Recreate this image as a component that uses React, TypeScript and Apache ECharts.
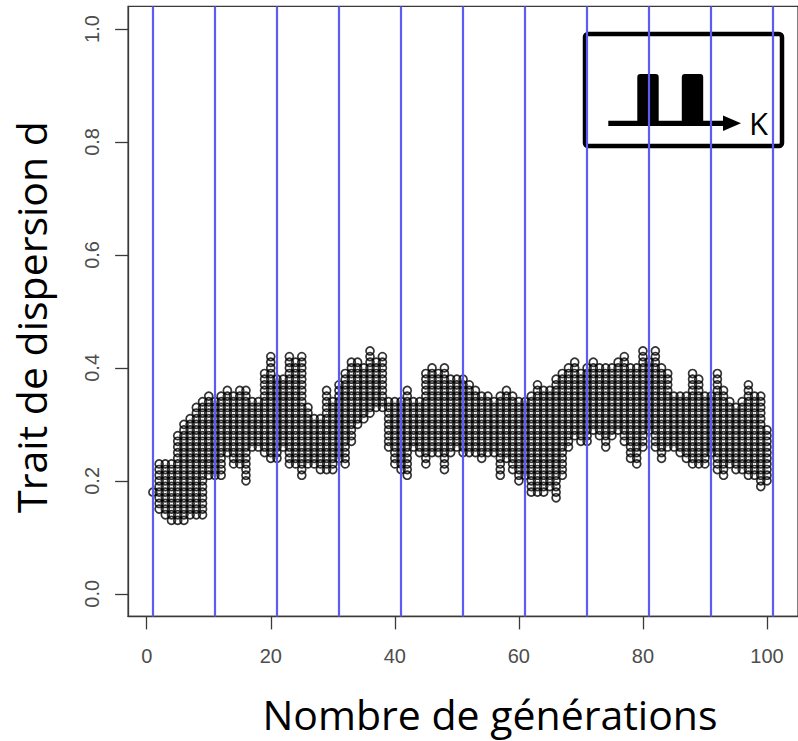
import React, { useEffect, useRef } from "react";
import * as echarts from "echarts";

// Generations (x) and the range of dispersion-trait levels present in each generation
const generations = [
  1, 2, 3, 4, 5, 6, 7, 8, 9, 10, 11, 12, 13, 14, 15, 16, 17, 18, 19, 20,
  21, 22, 23, 24, 25, 26, 27, 28, 29, 30, 31, 32, 33, 34, 35, 36, 37, 38, 39, 40,
  41, 42, 43, 44, 45, 46, 47, 48, 49, 50, 51, 52, 53, 54, 55, 56, 57, 58, 59, 60,
  61, 62, 63, 64, 65, 66, 67, 68, 69, 70, 71, 72, 73, 74, 75, 76, 77, 78, 79, 80,
  81, 82, 83, 84, 85, 86, 87, 88, 89, 90, 91, 92, 93, 94, 95, 96, 97, 98, 99, 100,
];
const traitMin = [
  0.18, 0.15, 0.14, 0.13, 0.13, 0.13, 0.14, 0.14, 0.14, 0.21,
  0.21, 0.21, 0.25, 0.23, 0.23, 0.2, 0.26, 0.26, 0.25, 0.24,
  0.24, 0.26, 0.23, 0.23, 0.21, 0.23, 0.23, 0.22, 0.22, 0.22,
  0.24, 0.23, 0.27, 0.3, 0.31, 0.32, 0.33, 0.33, 0.26, 0.23,
  0.22, 0.21, 0.26, 0.25, 0.23, 0.25, 0.25, 0.22, 0.25, 0.26,
  0.25, 0.25, 0.25, 0.24, 0.25, 0.25, 0.21, 0.24, 0.22, 0.2,
  0.21, 0.18, 0.18, 0.18, 0.19, 0.17, 0.21, 0.26, 0.28, 0.27,
  0.27, 0.29, 0.28, 0.26, 0.28, 0.29, 0.27, 0.24, 0.23, 0.26,
  0.29, 0.26, 0.24, 0.26, 0.26, 0.25, 0.24, 0.23, 0.23, 0.23,
  0.25, 0.22, 0.21, 0.23, 0.22, 0.22, 0.21, 0.21, 0.19, 0.2,
];
const traitMax = [
  0.18, 0.23, 0.23, 0.23, 0.28, 0.3, 0.31, 0.33, 0.34, 0.35,
  0.34, 0.35, 0.36, 0.35, 0.36, 0.36, 0.34, 0.34, 0.39, 0.42,
  0.38, 0.38, 0.42, 0.41, 0.42, 0.33, 0.31, 0.31, 0.36, 0.34,
  0.37, 0.39, 0.41, 0.41, 0.4, 0.43, 0.41, 0.42, 0.34, 0.34,
  0.34, 0.36, 0.34, 0.34, 0.39, 0.4, 0.39, 0.4, 0.38, 0.38,
  0.38, 0.37, 0.36, 0.35, 0.35, 0.34, 0.35, 0.36, 0.35, 0.34,
  0.34, 0.35, 0.37, 0.36, 0.36, 0.38, 0.39, 0.4, 0.41, 0.39,
  0.4, 0.41, 0.4, 0.4, 0.4, 0.41, 0.42, 0.4, 0.4, 0.43,
  0.41, 0.43, 0.4, 0.39, 0.35, 0.35, 0.35, 0.39, 0.38, 0.35,
  0.35, 0.39, 0.36, 0.34, 0.33, 0.34, 0.37, 0.35, 0.35, 0.29,
];
const traitStep = 0.01;
const blueLineGenerations = [1, 11, 21, 31, 41, 51, 61, 71, 81, 91, 101];
const xTicks = [0, 20, 40, 60, 80, 100];
const yTicks = [0, 0.2, 0.4, 0.6, 0.8, 1.0];
const xTitle = "Nombre de générations";
const yTitle = "Trait de dispersion d";
const insetLabel = "K";

export default function App() {
  const ref = useRef<HTMLDivElement>(null);

  useEffect(() => {
    if (!ref.current) return;
    const chart = echarts.init(ref.current, undefined, { renderer: "svg" });

    const points: number[][] = [];
    generations.forEach((g, i) => {
      const lo = Math.round(traitMin[i] / traitStep);
      const hi = Math.round(traitMax[i] / traitStep);
      for (let k = lo; k <= hi; k++) {
        points.push([g, +(k * traitStep).toFixed(2)]);
      }
    });

    const axisColor = "#3a3a3a";
    const labelColor = "#4d4d4d";

    chart.setOption({
      animation: false,
      backgroundColor: "#ffffff",
      grid: {
        left: 128.1,
        top: 6.4,
        width: 680.4,
        height: 610,
        show: true,
        borderColor: axisColor,
        borderWidth: 1.3,
        backgroundColor: "transparent",
      },
      xAxis: {
        type: "value",
        min: -3,
        max: 105,
        axisLine: { show: true, onZero: false, lineStyle: { color: axisColor, width: 1.3 } },
        splitLine: { show: false },
        axisTick: {
          show: true,
          length: 13,
          customValues: xTicks,
          lineStyle: { color: axisColor, width: 1.3 },
        },
        axisLabel: {
          customValues: xTicks,
          margin: 30,
          fontSize: 20,
          color: labelColor,
          fontFamily: "Liberation Sans",
        },
      },
      yAxis: {
        type: "value",
        min: -0.04,
        max: 1.04,
        axisLine: { show: true, onZero: false, lineStyle: { color: axisColor, width: 1.3 } },
        splitLine: { show: false },
        axisTick: {
          show: true,
          length: 13,
          customValues: yTicks,
          lineStyle: { color: axisColor, width: 1.3 },
        },
        axisLabel: {
          customValues: yTicks,
          rotate: 90,
          margin: 26,
          fontSize: 20,
          color: labelColor,
          fontFamily: "Liberation Sans",
          formatter: (v: number) => v.toFixed(1),
        },
      },
      series: [
        {
          type: "line",
          data: [],
          z: 1,
          silent: true,
          markLine: {
            silent: true,
            symbol: ["none", "none"],
            label: { show: false },
            lineStyle: { color: "#5c5cf2", width: 2.2, type: "solid" },
            data: blueLineGenerations.map((g) => ({ xAxis: g })),
          },
        },
        {
          type: "scatter",
          z: 2,
          silent: true,
          symbol: "circle",
          symbolSize: 8,
          itemStyle: {
            color: "rgba(255,255,255,0)",
            borderColor: "#000000",
            borderWidth: 1.7,
          },
          data: points,
        },
      ],
      graphic: [
        {
          type: "text",
          x: 490,
          y: 714,
          z: 100,
          style: {
            text: xTitle,
            fontFamily: "Open Sans",
            fontSize: 41,
            fill: "#000",
            align: "center",
            verticalAlign: "middle",
          },
        },
        {
          type: "text",
          x: 31,
          y: 317,
          rotation: Math.PI / 2,
          z: 100,
          style: {
            text: yTitle,
            fontFamily: "Open Sans",
            fontSize: 41,
            fill: "#000",
            align: "center",
            verticalAlign: "middle",
          },
        },
        {
          type: "group",
          z: 100,
          children: [
            {
              type: "rect",
              shape: { x: 585, y: 34, width: 197, height: 112, r: 3 },
              style: { fill: "#fff", stroke: "#000", lineWidth: 4.5 },
            },
            {
              type: "rect",
              shape: { x: 637.3, y: 74, width: 21.4, height: 48, r: [3, 3, 0, 0] },
              style: { fill: "#000" },
            },
            {
              type: "rect",
              shape: { x: 681.8, y: 74, width: 21.4, height: 48, r: [3, 3, 0, 0] },
              style: { fill: "#000" },
            },
            {
              type: "rect",
              shape: { x: 608.3, y: 120.7, width: 118, height: 5.3 },
              style: { fill: "#000" },
            },
            {
              type: "polygon",
              shape: { points: [[723, 115.5], [741, 123.3], [723, 131]] },
              style: { fill: "#000" },
            },
            {
              type: "text",
              x: 749,
              y: 123,
              style: {
                text: insetLabel,
                fontFamily: "Open Sans",
                fontSize: 31,
                fill: "#000",
                align: "left",
                verticalAlign: "middle",
              },
            },
          ],
        },
      ],
    });

    return () => chart.dispose();
  }, []);

  return (
    <div
      ref={ref}
      style={{ position: "fixed", left: 0, top: 0, width: 798, height: 741 }}
    />
  );
}
